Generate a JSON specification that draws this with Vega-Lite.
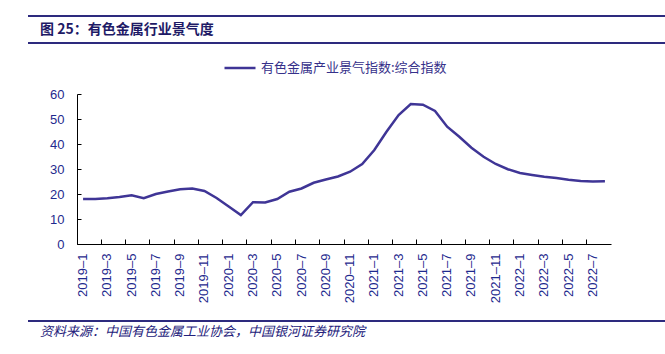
{
  "$schema": "https://vega.github.io/schema/vega-lite/v6.json",
  "background": "white",
  "padding": {"left": 27, "top": 15, "right": 0, "bottom": 0},
  "spacing": 7,
  "config": {
    "view": {"stroke": null},
    "font": "Liberation Sans"
  },
  "resolve": {"legend": {"color": "independent"}},
  "vconcat": [
    {
      "width": 638,
      "height": 27,
      "data": {"values": [{"title": "图 25：有色金属行业景气度"}]},
      "layer": [
        {
          "mark": {"type": "rule", "color": "#2D2A7E", "strokeWidth": 2},
          "encoding": {"y": {"datum": 1, "type": "quantitative", "scale": {"domain": [0, 1]}, "axis": null}}
        },
        {
          "mark": {"type": "rule", "color": "#2D2A7E", "strokeWidth": 2},
          "encoding": {"y": {"datum": 0, "type": "quantitative", "scale": {"domain": [0, 1]}, "axis": null}}
        },
        {
          "mark": {"type": "text", "align": "left", "baseline": "middle", "font": "Noto Sans CJK SC", "fontWeight": "bold", "fontSize": 14, "color": "#1E1A66"},
          "encoding": {
            "x": {"datum": 0.019, "type": "quantitative", "scale": {"domain": [0, 1]}, "axis": null},
            "y": {"datum": 0.5, "type": "quantitative", "scale": {"domain": [0, 1]}, "axis": null},
            "text": {"field": "title"}
          }
        }
      ]
    },
    {
      "spacing": 0,
      "resolve": {"legend": {"color": "independent"}},
      "hconcat": [
        {
          "width": 1,
          "height": 150,
          "data": {"values": []},
          "mark": {"type": "rule"},
          "encoding": {}
        },
        {
          "width": 534,
          "height": 150,
          "data": {"values": [
            {"month": "2019–1", "value": 18.0, "series": "有色金属产业景气指数:综合指数"},
            {"month": "2019–2", "value": 18.0, "series": "有色金属产业景气指数:综合指数"},
            {"month": "2019–3", "value": 18.3, "series": "有色金属产业景气指数:综合指数"},
            {"month": "2019–4", "value": 18.8, "series": "有色金属产业景气指数:综合指数"},
            {"month": "2019–5", "value": 19.5, "series": "有色金属产业景气指数:综合指数"},
            {"month": "2019–6", "value": 18.3, "series": "有色金属产业景气指数:综合指数"},
            {"month": "2019–7", "value": 20.0, "series": "有色金属产业景气指数:综合指数"},
            {"month": "2019–8", "value": 21.0, "series": "有色金属产业景气指数:综合指数"},
            {"month": "2019–9", "value": 21.9, "series": "有色金属产业景气指数:综合指数"},
            {"month": "2019–10", "value": 22.2, "series": "有色金属产业景气指数:综合指数"},
            {"month": "2019–11", "value": 21.2, "series": "有色金属产业景气指数:综合指数"},
            {"month": "2019–12", "value": 18.4, "series": "有色金属产业景气指数:综合指数"},
            {"month": "2020–1", "value": 15.0, "series": "有色金属产业景气指数:综合指数"},
            {"month": "2020–2", "value": 11.6, "series": "有色金属产业景气指数:综合指数"},
            {"month": "2020–3", "value": 16.7, "series": "有色金属产业景气指数:综合指数"},
            {"month": "2020–4", "value": 16.6, "series": "有色金属产业景气指数:综合指数"},
            {"month": "2020–5", "value": 18.0, "series": "有色金属产业景气指数:综合指数"},
            {"month": "2020–6", "value": 20.9, "series": "有色金属产业景气指数:综合指数"},
            {"month": "2020–7", "value": 22.2, "series": "有色金属产业景气指数:综合指数"},
            {"month": "2020–8", "value": 24.5, "series": "有色金属产业景气指数:综合指数"},
            {"month": "2020–9", "value": 25.8, "series": "有色金属产业景气指数:综合指数"},
            {"month": "2020–10", "value": 27.0, "series": "有色金属产业景气指数:综合指数"},
            {"month": "2020–11", "value": 28.9, "series": "有色金属产业景气指数:综合指数"},
            {"month": "2020–12", "value": 32.0, "series": "有色金属产业景气指数:综合指数"},
            {"month": "2021–1", "value": 37.6, "series": "有色金属产业景气指数:综合指数"},
            {"month": "2021–2", "value": 44.9, "series": "有色金属产业景气指数:综合指数"},
            {"month": "2021–3", "value": 51.6, "series": "有色金属产业景气指数:综合指数"},
            {"month": "2021–4", "value": 56.0, "series": "有色金属产业景气指数:综合指数"},
            {"month": "2021–5", "value": 55.7, "series": "有色金属产业景气指数:综合指数"},
            {"month": "2021–6", "value": 53.2, "series": "有色金属产业景气指数:综合指数"},
            {"month": "2021–7", "value": 46.9, "series": "有色金属产业景气指数:综合指数"},
            {"month": "2021–8", "value": 42.9, "series": "有色金属产业景气指数:综合指数"},
            {"month": "2021–9", "value": 38.5, "series": "有色金属产业景气指数:综合指数"},
            {"month": "2021–10", "value": 34.9, "series": "有色金属产业景气指数:综合指数"},
            {"month": "2021–11", "value": 32.0, "series": "有色金属产业景气指数:综合指数"},
            {"month": "2021–12", "value": 29.9, "series": "有色金属产业景气指数:综合指数"},
            {"month": "2022–1", "value": 28.4, "series": "有色金属产业景气指数:综合指数"},
            {"month": "2022–2", "value": 27.6, "series": "有色金属产业景气指数:综合指数"},
            {"month": "2022–3", "value": 26.9, "series": "有色金属产业景气指数:综合指数"},
            {"month": "2022–4", "value": 26.4, "series": "有色金属产业景气指数:综合指数"},
            {"month": "2022–5", "value": 25.7, "series": "有色金属产业景气指数:综合指数"},
            {"month": "2022–6", "value": 25.2, "series": "有色金属产业景气指数:综合指数"},
            {"month": "2022–7", "value": 25.0, "series": "有色金属产业景气指数:综合指数"},
            {"month": "2022–8", "value": 25.1, "series": "有色金属产业景气指数:综合指数"}
          ]},
          "mark": {"type": "line", "strokeWidth": 2.5},
          "encoding": {
            "x": {
              "field": "month", "type": "ordinal", "sort": null, "bandPosition": 0.5,
              "scale": {"type": "band", "paddingInner": 0, "paddingOuter": 0},
              "axis": {
                "title": null,
                "values": ["2019–1","2019–3","2019–5","2019–7","2019–9","2019–11","2020–1","2020–3","2020–5","2020–7","2020–9","2020–11","2021–1","2021–3","2021–5","2021–7","2021–9","2021–11","2022–1","2022–3","2022–5","2022–7"],
                "bandPosition": 0,
                "tickSize": -5,
                "labelPadding": 14,
                "labelAngle": -90,
                "labelAlign": "right",
                "labelBaseline": "middle",
                "labelFontSize": 13,
                "labelColor": "#1F2A8E",
                "domainColor": "#000000",
                "tickColor": "#000000",
                "grid": false
              }
            },
            "y": {
              "field": "value", "type": "quantitative",
              "scale": {"domain": [0, 60], "nice": false},
              "axis": {
                "title": null,
                "values": [0, 10, 20, 30, 40, 50, 60],
                "tickSize": -4,
                "labelPadding": 17,
                "labelFontSize": 13,
                "labelColor": "#1F2A8E",
                "domainColor": "#000000",
                "tickColor": "#000000",
                "grid": false,
                "minExtent": 48
              }
            },
            "color": {
              "field": "series", "type": "nominal",
              "scale": {"range": ["#3F3596"]},
              "legend": {
                "orient": "none",
                "legendX": 146,
                "legendY": -43,
                "title": null,
                "direction": "horizontal",
                "symbolType": "stroke",
                "symbolSize": 961,
                "symbolStrokeWidth": 2.5,
                "labelOffset": 4,
                "labelLimit": 0,
                "labelFont": "Noto Sans CJK SC",
                "labelFontSize": 13,
                "labelColor": "#35308A"
              }
            }
          }
        }
      ]
    },
    {
      "width": 638,
      "height": 33,
      "data": {"values": [{"source": "资料来源：中国有色金属工业协会，中国银河证券研究院"}]},
      "layer": [
        {
          "mark": {"type": "rule", "color": "#2D2A7E", "strokeWidth": 2},
          "encoding": {"y": {"datum": 0.667, "type": "quantitative", "scale": {"domain": [0, 1]}, "axis": null}}
        },
        {
          "mark": {"type": "text", "align": "left", "baseline": "middle", "font": "Noto Sans CJK SC", "fontStyle": "italic", "fontSize": 13, "color": "#23207A"},
          "encoding": {
            "x": {"datum": 0.019, "type": "quantitative", "scale": {"domain": [0, 1]}, "axis": null},
            "y": {"datum": 0.333, "type": "quantitative", "scale": {"domain": [0, 1]}, "axis": null},
            "text": {"field": "source"}
          }
        }
      ]
    }
  ]
}
